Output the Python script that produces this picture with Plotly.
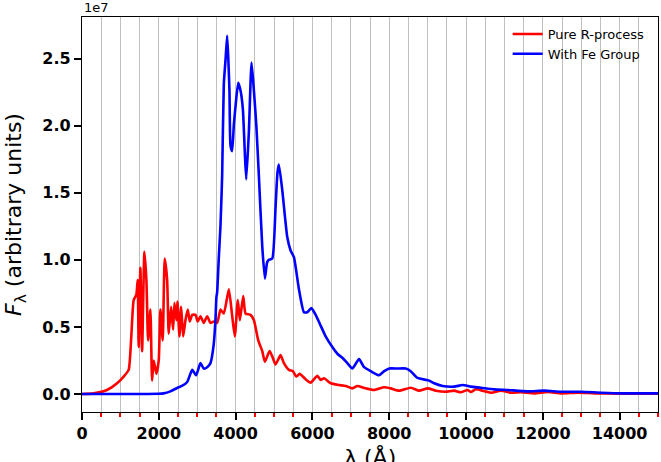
import plotly.graph_objects as go

# Wavelength grid (Angstrom) and flux (in units of 1e7) for the two spectra
wave_r = [0, 300, 650, 913, 1085, 1215, 1278, 1346, 1416, 1450, 1476, 1520, 1565, 1625,
          1677, 1721, 1781, 1825, 1867, 1938, 1998, 2042, 2102, 2154, 2217, 2258, 2320,
          2373, 2407, 2459, 2485, 2538, 2582, 2634, 2694, 2754, 2806, 2869, 2955, 3015,
          3085, 3172, 3260, 3346, 3432, 3520, 3607, 3693, 3824, 3912, 3980, 4058, 4111,
          4198, 4259, 4389, 4477, 4590, 4694, 4763, 4885, 4955, 5041, 5172, 5258, 5388,
          5493, 5581, 5667, 5824, 5954, 6129, 6215, 6302, 6476, 6693, 6867, 7041, 7172,
          7350, 7606, 7866, 8040, 8257, 8562, 8778, 9000, 9215, 9475, 9690, 9866, 10040,
          10127, 10257, 10430, 10650, 10910, 11170, 11430, 11780, 12127, 12475, 12910,
          13345, 14040, 15000]
flux_r = [0, 0.005, 0.03, 0.08, 0.13, 0.18, 0.40, 0.70, 0.74, 0.85, 0.35, 0.94, 0.32, 1.06,
          0.85, 0.40, 0.63, 0.10, 0.25, 0.15, 0.25, 0.63, 0.40, 1.01, 0.85, 0.45, 0.65,
          0.48, 0.68, 0.55, 0.69, 0.43, 0.65, 0.43, 0.55, 0.63, 0.54, 0.59, 0.59, 0.54,
          0.58, 0.53, 0.58, 0.53, 0.54, 0.53, 0.63, 0.60, 0.78, 0.58, 0.43, 0.70, 0.55,
          0.73, 0.60, 0.59, 0.55, 0.40, 0.32, 0.24, 0.32, 0.28, 0.22, 0.29, 0.23, 0.18,
          0.17, 0.13, 0.15, 0.11, 0.085, 0.135, 0.105, 0.117, 0.08, 0.067, 0.06, 0.042, 0.06,
          0.045, 0.03, 0.05, 0.042, 0.025, 0.047, 0.025, 0.042, 0.025, 0.017, 0.025, 0.013, 0.03,
          0.015, 0.035, 0.025, 0.01, 0.025, 0.01, 0.013, 0.005, 0.015, 0.005, 0.01,
          0.005, 0.003, 0.003]

wave_fe = [0, 1000, 2000, 2125, 2300, 2475, 2600, 2740, 2870, 2970, 3085, 3170, 3260, 3345,
           3430, 3475, 3500, 3520, 3560, 3607, 3650, 3693, 3740, 3780, 3810, 3840, 3868,
           3910, 3955, 4000, 4068, 4130, 4190, 4240, 4277, 4345, 4415, 4477, 4540, 4607,
           4694, 4763, 4820, 4867, 4955, 5040, 5090, 5127, 5215, 5345, 5432, 5519, 5650,
           5780, 5868, 5972, 6085, 6215, 6345, 6520, 6650, 6780, 6911, 7040, 7215, 7345,
           7520, 7735, 7870, 8000, 8215, 8430, 8560, 8736, 9040, 9170, 9390, 9690, 9910,
           10127, 10390, 10735, 11085, 11605, 12040, 12475, 13000, 13520, 14040, 15000]
flux_fe = [0, 0, 0.002, 0.005, 0.02, 0.045, 0.06, 0.09, 0.18, 0.14, 0.23, 0.19, 0.20, 0.23,
           0.37, 0.55, 0.72, 0.76, 1.0, 1.26, 1.63, 2.31, 2.5, 2.67, 2.5, 2.26, 1.85,
           1.81, 2.01, 2.15, 2.32, 2.26, 2.12, 1.8, 1.60, 1.95, 2.47, 2.26, 2.0, 1.62,
           1.10, 0.86, 0.98, 1.00, 1.01, 1.39, 1.65, 1.71, 1.52, 1.17, 1.07, 1.02, 0.78,
           0.61, 0.61, 0.64, 0.59, 0.51, 0.43, 0.35, 0.30, 0.27, 0.23, 0.19, 0.26, 0.20,
           0.17, 0.14, 0.17, 0.19, 0.19, 0.19, 0.17, 0.12, 0.10, 0.08, 0.06, 0.055, 0.067,
           0.055, 0.047, 0.035, 0.03, 0.02, 0.025, 0.017, 0.017, 0.01, 0.005, 0.005]

series_names = ["Pure R-process", "With Fe Group"]
series_colors = ["#ff0000", "#0000ff"]

y_ticks = [0.0, 0.5, 1.0, 1.5, 2.0, 2.5]
x_ticks = [0, 2000, 4000, 6000, 8000, 10000, 12000, 14000]

FONT = "DejaVu Sans"

fig = go.Figure()
for wv, fx, name, col in [(wave_r, flux_r, series_names[0], series_colors[0]),
                          (wave_fe, flux_fe, series_names[1], series_colors[1])]:
    fig.add_trace(go.Scatter(x=wv, y=fx, mode="lines", name=name,
                             line=dict(color=col, width=2.6, shape="spline",
                                       smoothing=0.5)))

fig.update_layout(
    width=661, height=462,
    margin=dict(l=82, r=3, t=17, b=50),
    paper_bgcolor="white", plot_bgcolor="white",
    font=dict(family=FONT, color="black"),
    showlegend=True,
    legend=dict(x=0.739, y=0.995, xanchor="left", yanchor="top",
                bgcolor="rgba(0,0,0,0)", font=dict(size=13, family=FONT),
                itemwidth=30, tracegroupgap=0),
    xaxis=dict(
        range=[0, 15000], tickvals=x_ticks,
        ticktext=[str(v) for v in x_ticks],
        tickfont=dict(size=16, family=FONT, weight="bold"),
        ticks="outside", ticklen=7, tickwidth=2, tickcolor="black",
        showline=True, linecolor="black", linewidth=1.3, mirror=True,
        showgrid=True, gridcolor="#c0c0c0", gridwidth=1.4, zeroline=False,
        minor=dict(dtick=500, tick0=0, ticks="outside", ticklen=4, tickwidth=2,
                   tickcolor="red", showgrid=True, gridcolor="#c0c0c0", gridwidth=1.4),
    ),
    yaxis=dict(
        range=[-0.134, 2.81], tickvals=y_ticks,
        ticktext=[f"{v:.1f}" for v in y_ticks],
        tickfont=dict(size=16, family=FONT, weight="bold"),
        ticks="outside", ticklen=7, tickwidth=2, tickcolor="black",
        showline=True, linecolor="black", linewidth=1.3, mirror=True,
        showgrid=False, zeroline=False,
        title=dict(text="<i>F</i><sub>λ</sub> (arbitrary units)",
                   font=dict(size=22, family=FONT), standoff=14),
    ),
)

# Exponent marker for the flux axis
fig.add_annotation(text="1e7", xref="paper", yref="paper", x=0, y=1,
                   xanchor="left", yanchor="bottom", showarrow=False,
                   font=dict(size=13, family=FONT))

# Wavelength axis title
fig.add_annotation(text="λ (Å)", xref="paper", yref="paper", x=0.5, y=-0.075,
                   xanchor="center", yanchor="top", showarrow=False,
                   font=dict(size=22, family=FONT))

fig.write_html("out.html")
